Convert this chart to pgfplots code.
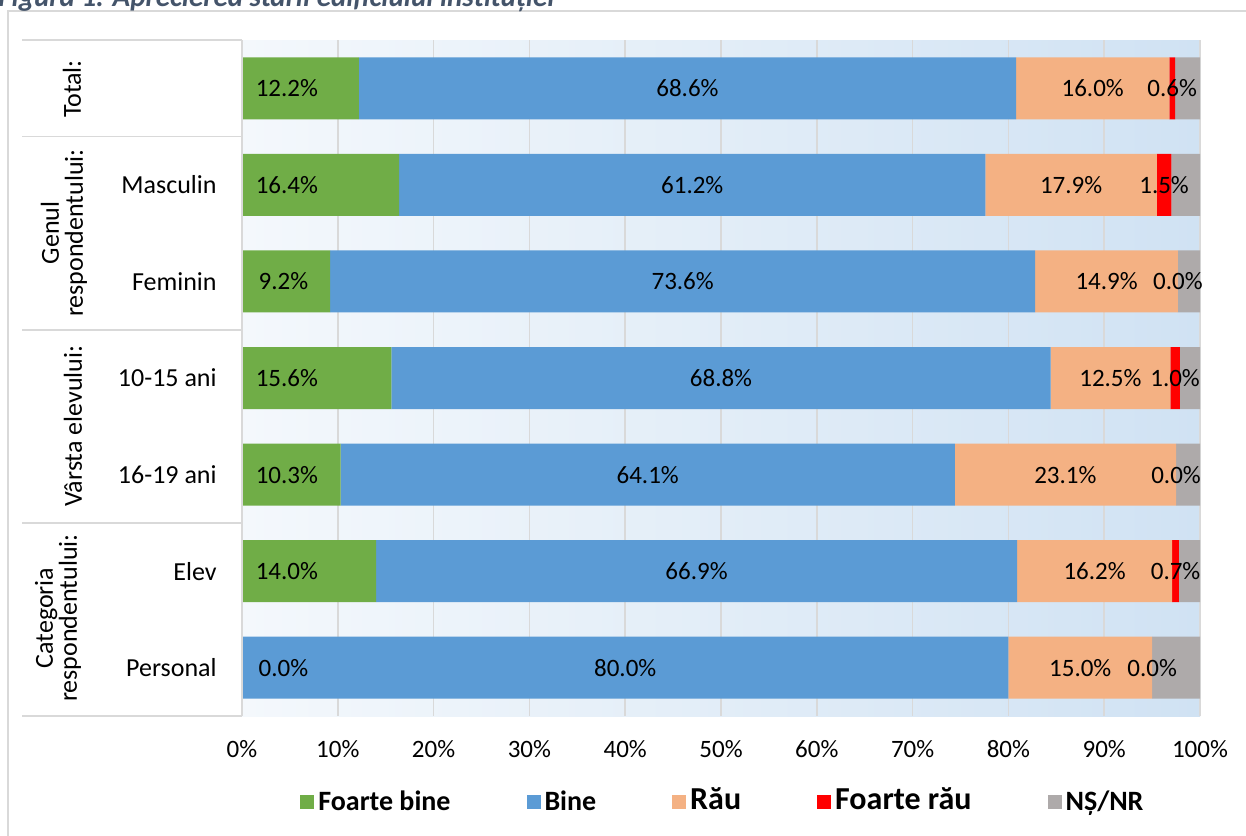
\documentclass[border=0pt]{standalone}
\usepackage{fontspec}
\setmainfont{Carlito}
\usepackage{pgfplots}
\usepackage{pgfplotstable}
\pgfplotsset{compat=1.18}
\definecolor{cG}{HTML}{70AD47}
\definecolor{cB}{HTML}{5B9BD5}
\definecolor{cR}{HTML}{F4B183}
\definecolor{cFR}{HTML}{FF0000}
\definecolor{cNS}{HTML}{AEAAAA}
\definecolor{gridc}{HTML}{D9D9D9}
\definecolor{bgL}{HTML}{F4F8FC}
\definecolor{bgR}{HTML}{D0E2F3}
\definecolor{titlec}{HTML}{44546A}

\pgfplotstableread{
y G B R FR NS
0 12.2 68.6 16.0 0.6 2.6
1 16.4 61.2 17.9 1.5 3.0
2 9.2 73.6 14.9 0.0 2.3
3 15.6 68.8 12.5 1.0 2.1
4 10.3 64.1 23.1 0.0 2.5
5 14.0 66.9 16.2 0.7 2.2
6 0.0 80.0 15.0 0.0 5.0
}\data

\pgfplotstableread{
y xG vG xB vB xR vR xFR vFR
0 1.4 12.2 46.5 68.6 88.8 16.0 97.1 0.6
1 1.4 16.4 47.0 61.2 86.55 17.9 96.25 1.5
2 1.7 9.2 46.0 73.6 90.25 14.9 97.7 0.0
3 1.4 15.6 50.0 68.8 90.65 12.5 97.4 1.0
4 1.4 10.3 42.35 64.1 85.95 23.1 97.5 0.0
5 1.4 14.0 47.45 66.9 89.0 16.2 97.45 0.7
6 1.7 0.0 40.0 80.0 87.5 15.0 95.0 0.0
}\labels

\pgfplotsset{
  /pgf/number format/assume math mode=true,
  lab/.style={draw=none, mark=none,
    nodes near coords={\pgfmathprintnumber[fixed,fixed zerofill,precision=1]{\pgfplotspointmeta}\%},
    point meta=explicit,
    every node near coord/.style={anchor=#1, inner sep=0pt, font=\fontsize{12.5}{13}\selectfont, text=black}},
  geom/.style={at={(121pt,-358pt)}, anchor=south west, width=479pt, height=338pt,
    scale only axis, xmin=0, xmax=100, ymin=-0.5, ymax=6.5, y dir=reverse}
}

\begin{document}
\begin{tikzpicture}
\draw[gridc, line width=0.75pt] (4pt,-440pt) -- (4pt,-5.5pt) -- (640pt,-5.5pt);
\node[anchor=base west, inner sep=0pt, font=\bfseries\itshape\fontsize{14.5}{14}\selectfont, text=titlec] at (-1pt,-3pt) {Figura 1. Aprecierea stării edificiului instituției};
\begin{scope}[gridc, line width=0.75pt]
\draw (11pt,-20pt) -- (121pt,-20pt);
\draw (11pt,-68.3pt) -- (121pt,-68.3pt);
\draw (11pt,-165pt) -- (121pt,-165pt);
\draw (11pt,-261.5pt) -- (121pt,-261.5pt);
\draw (11pt,-358pt) -- (121pt,-358pt);
\end{scope}
\begin{scope}[every node/.style={rotate=90, inner sep=0pt, align=center, font=\fontsize{13}{12}\selectfont}]
\node at (36pt,-44.5pt) {Total:};
\node at (32pt,-116.5pt) {Genul\\respondentului:};
\node at (36.5pt,-213pt) {Vârsta elevului:};
\node at (29pt,-309pt) {Categoria\\respondentului:};
\end{scope}

\begin{axis}[geom,
  xbar stacked, bar width=31pt,
  axis background/.style={left color=bgL, right color=bgR},
  axis line style={draw=none},
  major tick length=0pt,
  xtick={0,10,...,100},
  xticklabel={\pgfmathprintnumber{\tick}\%},
  xticklabel style={font=\fontsize{12.5}{12.5}\selectfont, inner sep=0pt, anchor=north, yshift=-12pt},
  ytick={0,...,6},
  yticklabels={,Masculin,Feminin,10-15 ani,16-19 ani,Elev,Personal},
  yticklabel style={font=\fontsize{13}{13}\selectfont, inner sep=0pt, anchor=east, xshift=-12.5pt},
  xmajorgrids, grid style={gridc, line width=0.75pt},
  legend columns=5,
  legend image code/.code={\fill[#1] (0pt,-3.5pt) rectangle (7pt,3.5pt);},
  legend style={at={(axis description cs:0.0605,0)}, anchor=west, yshift=-43pt,
    draw=none, fill=none, inner sep=0pt,
    font=\bfseries\fontsize{14}{14}\selectfont,
    nodes={inner sep=2pt},
    /tikz/every even column/.append style={column sep=36pt}},
]
\addplot[fill=cG, draw=none] table[x=G, y=y]{\data};
\addlegendentry{Foarte bine}
\addplot[fill=cB, draw=none] table[x=B, y=y]{\data};
\addlegendentry{Bine}
\addplot[fill=cR, draw=none] table[x=R, y=y]{\data};
\addlegendentry{\fontsize{16}{14}\selectfont\raisebox{2pt}{Rău}}
\addplot[fill=cFR, draw=none] table[x=FR, y=y]{\data};
\addlegendentry{\fontsize{16}{14}\selectfont\raisebox{2pt}{Foarte rău}}
\addplot[fill=cNS, draw=none] table[x=NS, y=y]{\data};
\addlegendentry{NȘ/NR}
\end{axis}
\draw[gridc, line width=0.75pt] (121pt,-20pt) -- (121pt,-358pt);

\begin{axis}[geom, hide axis, clip=false]
\addplot[lab=west] table[x=xG, y=y, meta=vG]{\labels};
\addplot[lab=center] table[x=xB, y=y, meta=vB]{\labels};
\addplot[lab=center] table[x=xR, y=y, meta=vR]{\labels};
\addplot[lab=center] table[x=xFR, y=y, meta=vFR]{\labels};
\end{axis}
\pgfresetboundingbox
\useasboundingbox (0,0) rectangle (623pt,-417.5pt);
\end{tikzpicture}
\end{document}
